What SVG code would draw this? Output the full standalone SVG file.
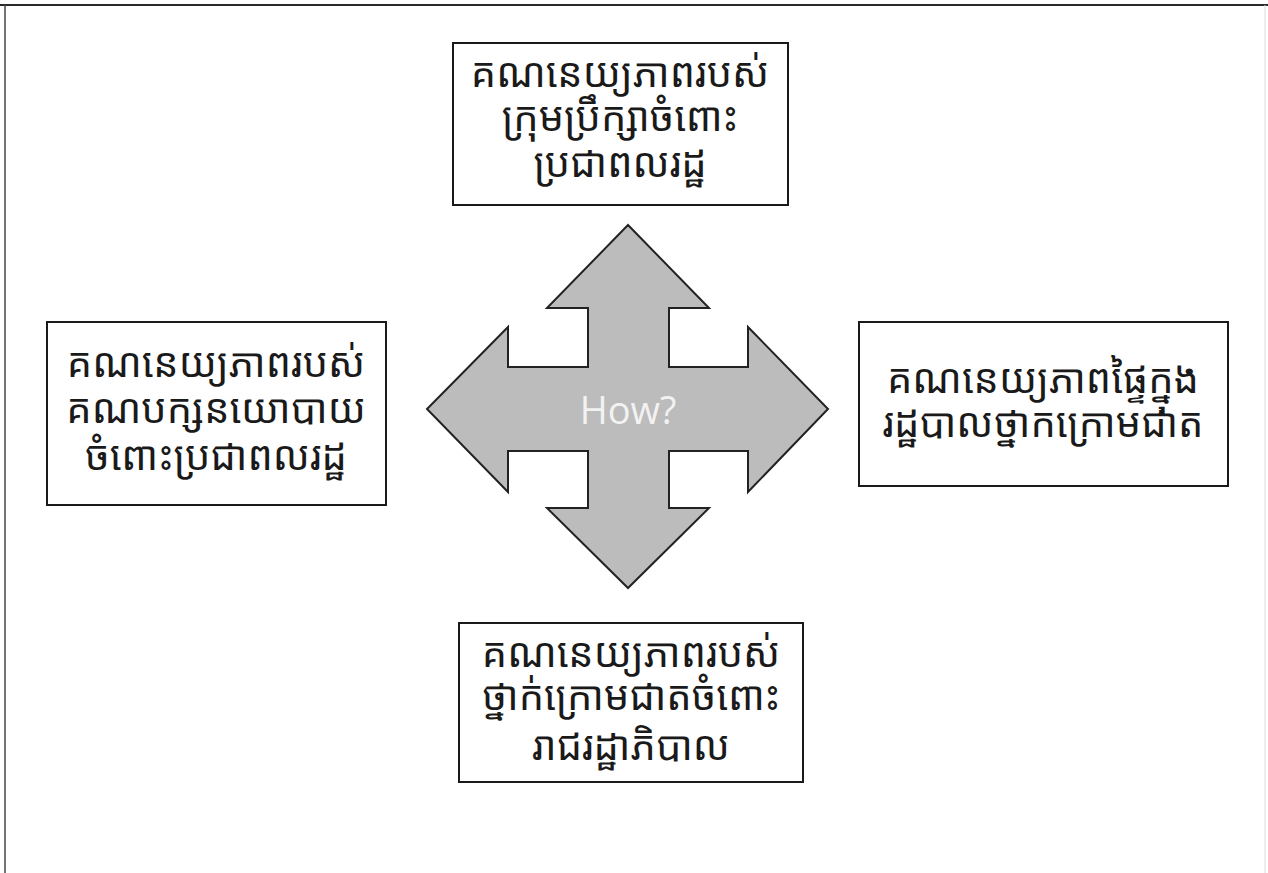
<svg xmlns="http://www.w3.org/2000/svg" width="1268" height="873" viewBox="0 0 1268 873">
<style>
.box{fill:#fff;stroke:#1a1a1a;stroke-width:2}
.kh{font-family:"Noto Sans Khmer","Noto Serif Khmer","Khmer OS","Khmer OS System","Noto Sans",sans-serif;font-size:40px;fill:#1a1a1a;text-anchor:middle}
.how{font-family:"Open Sans","Noto Sans",sans-serif;font-size:38px;fill:#f2f2f2;text-anchor:middle}
</style>
<rect width="1268" height="873" fill="#fff"/>
<g id="page-border">
<line x1="0" y1="5" x2="1268" y2="5" stroke="#2a2a2a" stroke-width="2"/>
<line x1="5" y1="5" x2="5" y2="873" stroke="#444" stroke-width="1.5"/>
<line x1="1265" y1="5" x2="1265" y2="873" stroke="#ddd" stroke-width="1"/>
</g>
<g id="hub">
<polygon points="628,225 709,308 669,308 669,367 748,367 748,327 828,409 748,492 748,451 669,451 669,508 709,508 628,588 547,508 588,508 588,451 508,451 508,492 427,409 508,327 508,367 588,367 588,308 547,308" fill="#bcbcbc" stroke="#222" stroke-width="2" stroke-linejoin="miter"/>
<text class="how" x="628" y="424">How?</text>
</g>
<g id="connectors"></g>
<g id="node-top">
<rect class="box" x="453" y="43" width="335" height="162"/>
<text class="kh"><tspan x="620" y="87">គណនេយ្យភាពរបស់</tspan><tspan x="620" y="131">ក្រុមប្រឹក្សាចំពោះ</tspan><tspan x="620" y="177">ប្រជាពលរដ្ឋ</tspan></text>
</g>
<g id="node-left">
<rect class="box" x="47" y="322" width="339" height="183"/>
<text class="kh"><tspan x="216" y="377">គណនេយ្យភាពរបស់</tspan><tspan x="216" y="423">គណបក្សនយោបាយ</tspan><tspan x="216" y="470">ចំពោះប្រជាពលរដ្ឋ</tspan></text>
</g>
<g id="node-right">
<rect class="box" x="859" y="322" width="369" height="164"/>
<text class="kh"><tspan x="1043" y="393">គណនេយ្យភាពផ្ទៃក្នុង</tspan><tspan x="1043" y="437">រដ្ឋបាលថ្នាកក្រោមជាត</tspan></text>
</g>
<g id="node-bottom">
<rect class="box" x="459" y="623" width="344" height="159"/>
<text class="kh"><tspan x="631" y="667">គណនេយ្យភាពរបស់</tspan><tspan x="631" y="710">ថ្នាក់ក្រោមជាតចំពោះ</tspan><tspan x="631" y="760">រាជរដ្ឋាភិបាល</tspan></text>
</g>
</svg>
